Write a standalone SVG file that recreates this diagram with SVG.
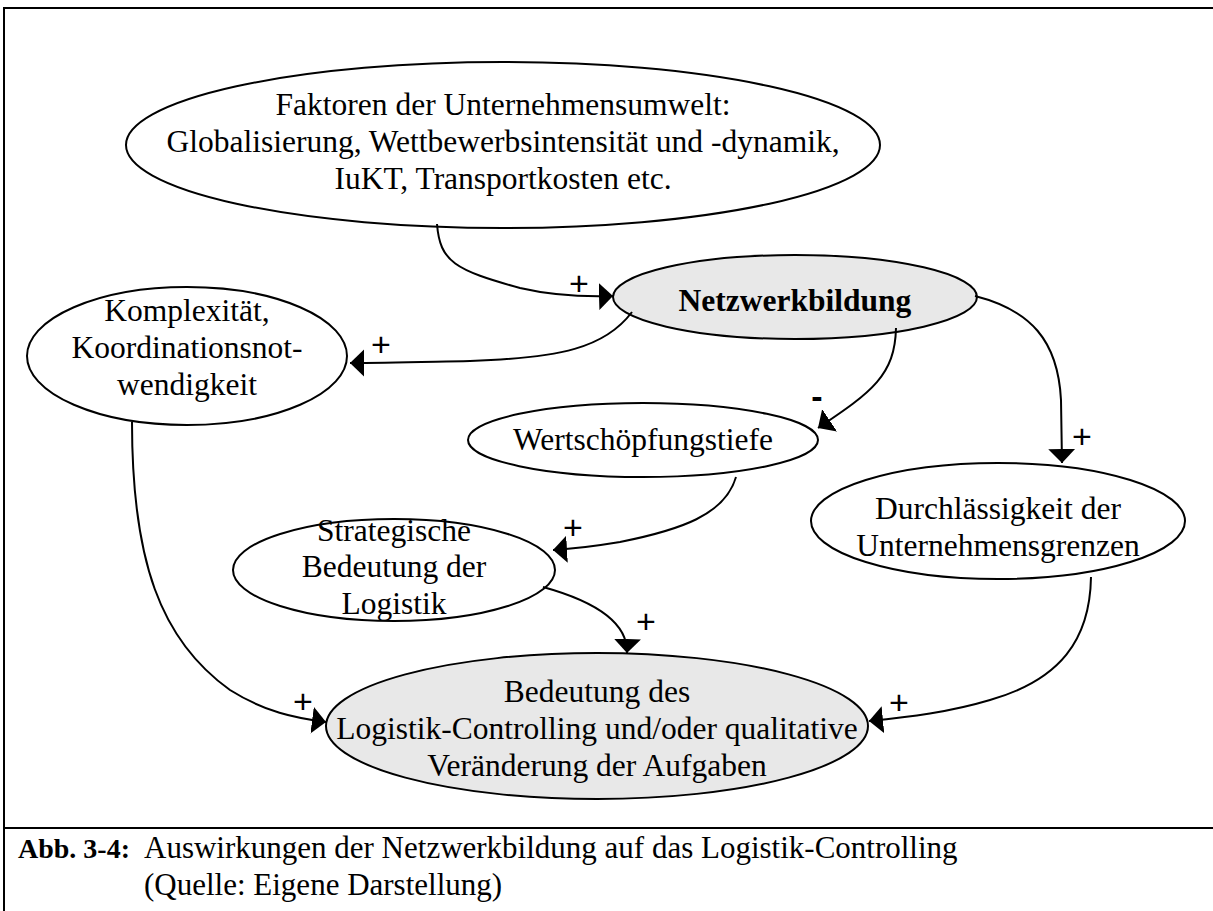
<svg xmlns="http://www.w3.org/2000/svg" width="1213" height="911" viewBox="0 0 1213 911">
  <style>
    .node { fill: #ffffff; stroke: #000000; stroke-width: 2; }
    .hl { fill: #e8e8e8; }
    .lbl { font-family: "Liberation Serif", "Times New Roman", serif; font-size: 31.5px; fill: #000; text-anchor: middle; }
    .bold { font-weight: bold; }
    .sign { font-family: "Liberation Sans", Arial, sans-serif; font-size: 34px; fill: #000; text-anchor: middle; }
    .edge { fill: none; stroke: #000000; stroke-width: 2; }
    .cap { font-family: "Liberation Serif", "Times New Roman", serif; font-size: 31px; fill: #000; }
    .capb { font-family: "Liberation Serif", "Times New Roman", serif; font-size: 28px; font-weight: bold; fill: #000; }
  </style>
  <defs>
    <marker id="arrow" markerUnits="userSpaceOnUse" markerWidth="16" markerHeight="28" refX="14" refY="13.5" orient="auto" viewBox="0 0 16 28">
      <path d="M0,0 L14,13.5 L0,27 z" fill="#000"/>
    </marker>
  </defs>

  <rect width="1213" height="911" fill="#ffffff"/>

  <!-- frame and caption divider -->
  <g id="frame" fill="none" stroke="#000" stroke-width="2">
    <rect x="4" y="8" width="1220" height="920"/>
    <line x1="4" y1="828" x2="1213" y2="828"/>
  </g>

  <g id="umwelt">
    <ellipse class="node" cx="503" cy="145" rx="377" ry="83"/>
    <text class="lbl" x="503" y="115">Faktoren der Unternehmensumwelt:</text>
    <text class="lbl" x="503" y="152">Globalisierung, Wettbewerbsintensität und -dynamik,</text>
    <text class="lbl" x="503" y="189">IuKT, Transportkosten etc.</text>
  </g>

  <g id="netzwerk">
    <ellipse class="node hl" cx="795" cy="297" rx="182" ry="42"/>
    <text class="lbl bold" x="795" y="311">Netzwerkbildung</text>
  </g>

  <g id="komplexitaet">
    <ellipse class="node" cx="187" cy="356" rx="160" ry="69"/>
    <text class="lbl" x="187" y="321">Komplexität,</text>
    <text class="lbl" x="187" y="358">Koordinationsnot-</text>
    <text class="lbl" x="187" y="395">wendigkeit</text>
  </g>

  <g id="wertschoepfung">
    <ellipse class="node" cx="643" cy="440" rx="175" ry="37"/>
    <text class="lbl" x="643" y="450">Wertschöpfungstiefe</text>
  </g>

  <g id="durchlaessigkeit">
    <ellipse class="node" cx="998" cy="521" rx="187" ry="58"/>
    <text class="lbl" x="998" y="519">Durchlässigkeit der</text>
    <text class="lbl" x="998" y="556">Unternehmensgrenzen</text>
  </g>

  <g id="strategisch">
    <ellipse class="node" cx="394" cy="570" rx="161" ry="51"/>
    <text class="lbl" x="394" y="541">Strategische</text>
    <text class="lbl" x="394" y="577">Bedeutung der</text>
    <text class="lbl" x="394" y="614">Logistik</text>
  </g>

  <g id="controlling">
    <ellipse class="node hl" cx="597" cy="726" rx="271" ry="73"/>
    <text class="lbl" x="597" y="702">Bedeutung des</text>
    <text class="lbl" x="597" y="739">Logistik-Controlling und/oder qualitative</text>
    <text class="lbl" x="597" y="776">Veränderung der Aufgaben</text>
  </g>

  <!-- connectors -->
  <g id="connectors" class="edge" marker-end="url(#arrow)">
    <path class="edge" d="M 437 224 C 440 262, 455 270, 520 288 C 550 295, 580 297, 613 296"/>
    <path class="edge" d="M 632 312 C 605 348, 560 358, 470 361 C 420 362, 385 363, 350 363"/>
    <path class="edge" d="M 896 328 C 895 375, 872 392, 818 428"/>
    <path class="edge" d="M 975 296 C 1030 310, 1058 340, 1061 400 L 1062 463"/>
    <path class="edge" d="M 736 477 C 725 515, 680 530, 620 542 C 590 547, 570 549, 553 550"/>
    <path class="edge" d="M 543 587 C 590 600, 628 620, 627 653"/>
    <path class="edge" d="M 132 422 C 132 560, 160 640, 230 690 C 265 712, 295 718, 326 722"/>
    <path class="edge" d="M 1091 577 C 1090 640, 1060 680, 990 700 C 950 712, 910 717, 869 721"/>
  </g>

  <g id="signs">
    <text class="sign" x="579" y="295">+</text>
    <text class="sign" x="381" y="356">+</text>
    <text class="sign bold" x="817" y="408">-</text>
    <text class="sign" x="1082" y="448">+</text>
    <text class="sign" x="573" y="539">+</text>
    <text class="sign" x="646" y="633">+</text>
    <text class="sign" x="303" y="713">+</text>
    <text class="sign" x="899" y="714">+</text>
  </g>

  <g id="caption">
    <text class="capb" x="18" y="858">Abb. 3-4:</text>
    <text class="cap" x="144" y="858">Auswirkungen der Netzwerkbildung auf das Logistik-Controlling</text>
    <text class="cap" x="144" y="895">(Quelle: Eigene Darstellung)</text>
  </g>
</svg>
